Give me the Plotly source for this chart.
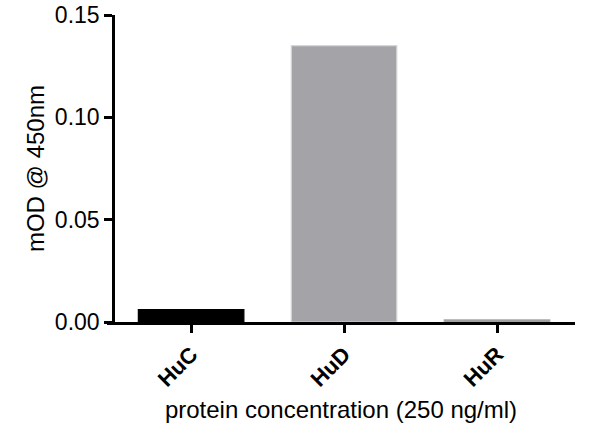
import plotly.graph_objects as go

# protein samples and measured absorbance
proteins = ['HuC', 'HuD', 'HuR']
mod_450 = [0.006, 0.135, 0.001]
bar_colors = ['#000000', '#A4A3A8', '#9A9A9A']
line_colors = ['#000000', '#D6D6D8', '#A8A8A8']

y_ticks = [0.00, 0.05, 0.10, 0.15]
y_labels = ['0.00', '0.05', '0.10', '0.15']

font_name = 'Liberation Sans, Arial, sans-serif'

fig = go.Figure(data=[
	go.Bar(
		x=proteins,
		y=mod_450,
		width=0.69,
		marker=dict(color=bar_colors, line=dict(color=line_colors, width=1.2))
	)
])

fig.update_layout(
	width=600,
	height=447,
	margin=dict(l=107, r=25, t=15, b=125),
	plot_bgcolor='white',
	paper_bgcolor='white',
	showlegend=False,
	font=dict(family=font_name, color='black'),
	xaxis=dict(
		range=[-0.55, 2.51],
		automargin=False,
		showline=True,
		linecolor='black',
		linewidth=2.5,
		ticks='outside',
		ticklen=8,
		tickwidth=2.5,
		tickcolor='black',
		tickangle=-45,
		tickfont=dict(size=22),
		title=dict(text='protein concentration (250 ng/ml)', font=dict(size=24), standoff=11),
		showgrid=False,
		zeroline=False,
	),
	yaxis=dict(
		range=[0, 0.15],
		automargin=False,
		anchor='free',
		position=0.0128,
		showline=True,
		linecolor='black',
		linewidth=2.5,
		ticks='outside',
		ticklen=8,
		tickwidth=2.5,
		tickcolor='black',
		tickvals=y_ticks,
		ticktext=y_labels,
		tickfont=dict(size=23),
		ticklabeloverflow='allow',
		title=dict(text='mOD @ 450nm', font=dict(size=24), standoff=2),
		showgrid=False,
		zeroline=False,
	),
)

fig.update_xaxes(tickprefix='<b>', ticksuffix='</b>')
fig.update_yaxes(tickprefix='<b>', ticksuffix='</b>')

# drop the default 8px page margin so the figure sits at the window corner
fig.write_html(
	'out.html',
	config={'displayModeBar': False},
	post_script="document.body.style.margin='0px';"
)
